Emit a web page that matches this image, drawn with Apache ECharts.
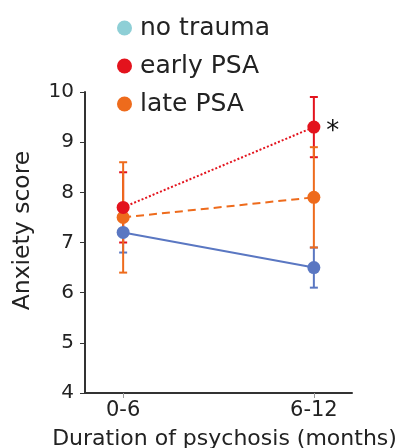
<!DOCTYPE html>
<html lang="en">
<head>
    <meta charset="UTF-8">
    <title>anxiety</title>
    <script src="https://cdn.jsdelivr.net/npm/echarts@6/dist/echarts.min.js"></script>
    <style>
        html, body { margin: 0; padding: 0; background: #fff; }
    </style>
</head>
<body>
<div id="main" style="width: 400px;height:448px;"></div>

<script>
    // data
    const categories = ['0-6', '6-12'];
    const names = ['no trauma', 'early PSA', 'late PSA'];
    const noTrauma = [7.2, 6.5];
    const noTraumaLow = [6.8, 6.1];
    const noTraumaHigh = [7.6, 6.9];
    const earlyPSA = [7.7, 9.3];
    const earlyLow = [7.0, 8.7];
    const earlyHigh = [8.4, 9.9];
    const latePSA = [7.5, 7.9];
    const lateLow = [6.4, 6.9];
    const lateHigh = [8.6, 8.9];
    const yTicks = [4, 5, 6, 7, 8, 9, 10];

    const lineColors = ['#5a77c2', '#e3131d', '#ee6b1c'];
    const legendColors = ['#8ecfd6', '#e3131d', '#ee6b1c'];
    const font = 'DejaVu Sans';

    const pts = function (vals) {
        return vals.map(function (v, i) { return [i, v]; });
    };
    const bars = function (low, high) {
        return low.map(function (l, i) { return [i, l, high[i]]; });
    };

    const errorSeries = function (name, low, high, color, z) {
        return {
            type: 'custom',
            name: name,
            z: z,
            silent: true,
            data: bars(low, high),
            renderItem: function (params, api) {
                const x = api.coord([api.value(0), api.value(1)])[0];
                const y1 = api.coord([api.value(0), api.value(1)])[1];
                const y2 = api.coord([api.value(0), api.value(2)])[1];
                const w = 4;
                const style = { stroke: color, lineWidth: 2 };
                return {
                    type: 'group',
                    children: [
                        { type: 'line', shape: { x1: x, y1: y1, x2: x, y2: y2 }, style: style },
                        { type: 'line', shape: { x1: x - w, y1: y1, x2: x + w, y2: y1 }, style: style },
                        { type: 'line', shape: { x1: x - w, y1: y2, x2: x + w, y2: y2 }, style: style }
                    ]
                };
            }
        };
    };

    const lineSeries = function (name, vals, color, dash, z, label) {
        return {
            type: 'line',
            name: name,
            z: z,
            data: pts(vals),
            symbol: 'circle',
            symbolSize: 13,
            itemStyle: { color: color },
            lineStyle: { color: color, width: 2, type: dash },
            label: label || { show: false },
            animation: false
        };
    };

    const myChart = echarts.init(document.getElementById('main'));
    myChart.setOption({
        animation: false,
        textStyle: { fontFamily: font },
        legend: {
            orient: 'vertical',
            left: 112,
            top: 9,
            itemGap: 10,
            icon: 'circle',
            itemWidth: 15,
            itemHeight: 15,
            selectedMode: false,
            textStyle: { fontSize: 25, lineHeight: 28, color: '#222', fontFamily: font, padding: [0, 0, 0, 3] },
            data: names.map(function (n, i) {
                return { name: n, itemStyle: { color: legendColors[i] } };
            })
        },
        grid: { left: 85, right: 48, top: 92, bottom: 55, containLabel: false, outerBoundsMode: 'none' },
        xAxis: {
            type: 'value',
            min: -0.2,
            max: 1.2,
            name: 'Duration of psychosis (months)',
            nameLocation: 'middle',
            nameGap: 35,
            nameTextStyle: { fontSize: 22, color: '#222', fontFamily: font, padding: [0, 0, 0, 12] },
            splitLine: { show: false },
            axisLine: { show: true, onZero: false, lineStyle: { color: '#333', width: 2 } },
            axisTick: { show: true, customValues: [0, 1], length: 5, lineStyle: { color: '#999' } },
            axisLabel: {
                customValues: [0, 1],
                fontSize: 21,
                color: '#222',
                margin: 7,
                formatter: function (v) { return categories[Math.round(v)]; }
            }
        },
        yAxis: {
            type: 'value',
            min: yTicks[0],
            max: yTicks[yTicks.length - 1],
            interval: 1,
            name: 'Anxiety score',
            nameLocation: 'middle',
            nameGap: 50,
            nameTextStyle: { fontSize: 23.5, color: '#222', fontFamily: font, padding: [0, 0, 0, 24] },
            splitLine: { show: false },
            axisLine: { show: true, onZero: false, lineStyle: { color: '#333', width: 2 } },
            axisTick: { show: true, length: 5, lineStyle: { color: '#333' } },
            axisLabel: { fontSize: 20, color: '#222', margin: 11 }
        },
        series: [
            errorSeries('no trauma', noTraumaLow, noTraumaHigh, lineColors[0], 1),
            errorSeries('early PSA', earlyLow, earlyHigh, lineColors[1], 2),
            errorSeries('late PSA', lateLow, lateHigh, lineColors[2], 3),
            lineSeries('no trauma', noTrauma, lineColors[0], 'solid', 4),
            lineSeries('late PSA', latePSA, lineColors[2], [8, 5], 5),
            lineSeries('early PSA', earlyPSA, lineColors[1], [2, 2], 6, {
                show: true,
                position: 'right',
                distance: 6,
                offset: [0, 5],
                fontSize: 26,
                color: '#111',
                formatter: function (p) { return p.dataIndex === 1 ? '*' : ''; }
            })
        ]
    });
</script>
</body>
</html>
